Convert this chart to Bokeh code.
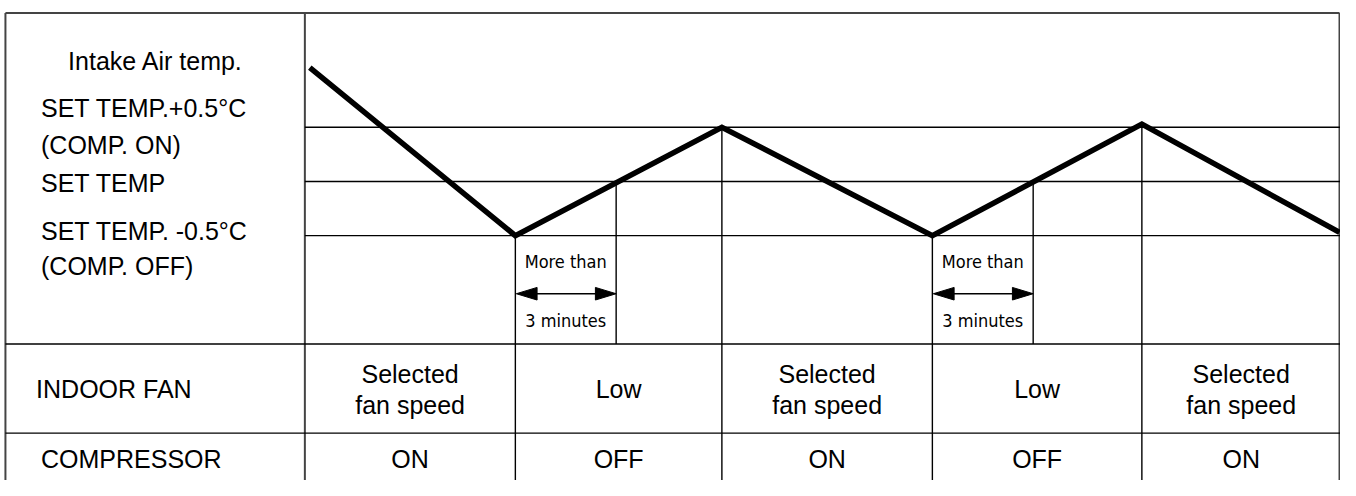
from bokeh.plotting import figure
from bokeh.models import Range1d
from bokeh.core.properties import value
from bokeh.embed import file_html
from bokeh.resources import INLINE

# ---------------- data ----------------
time_pts    = [313, 521, 730, 943, 1155, 1355]          # time axis (arbitrary units)
intake_temp = [1.05, -0.50, 0.50, -0.50, 0.53, -0.47]    # °C relative to set temperature
point_kind  = ["start", "min", "max", "min", "max", "end"]
level_temps = [0.5, 0.0, -0.5]
level_text  = [["SET TEMP.+0.5°C", "(COMP. ON)"], ["SET TEMP"], ["SET TEMP. -0.5°C", "(COMP. OFF)"]]
phase_edges = [308, 521, 730, 943, 1155, 1356]
indoor_fan  = [["Selected", "fan speed"], ["Low"], ["Selected", "fan speed"], ["Low"], ["Selected", "fan speed"]]
compressor  = ["ON", "OFF", "ON", "OFF", "ON"]
row_names   = ["INDOOR FAN", "COMPRESSOR"]
delay_len   = 102          # span of "More than 3 minutes"
delay_text  = ["More than", "3 minutes"]
title_text  = "Intake Air temp."

# ---------------- layout ----------------
W_REF, H_REF = 1356, 496
PX_PER_DEG = 112.0
Y_ZERO = 187.0


def ty(px):
    return (Y_ZERO - px) / PX_PER_DEG


B_L, B_R, B_T, B_B = 5, 1355, 13, 496
ROW1_TOP, ROW2_TOP = 355, 447
LABEL_X = 41
FONT = value("Liberation Sans")
NARROW = value("'Liberation Sans Narrow', 'DejaVu Sans Condensed', 'Liberation Sans', sans-serif")
FS = value("25px")
FS_N = value("18px")

p = figure(width=1340, height=480, output_backend="svg", toolbar_location=None,
           x_range=Range1d(0, W_REF), y_range=Range1d(ty(H_REF), ty(0)),
           min_border=0)
p.axis.visible = False
p.grid.visible = False
p.outline_line_color = None
p.background_fill_color = "white"
p.border_fill_color = "white"

# outer frame + left label column divider
p.segment(x0=[B_L, B_L, B_R, phase_edges[0]],
          y0=[ty(B_T)] * 4,
          x1=[B_R, B_L, B_R, phase_edges[0]],
          y1=[ty(B_T), ty(B_B), ty(B_B), ty(B_B)],
          line_color="#444444", line_width=2)

# temperature level lines
p.segment(x0=[phase_edges[0]] * len(level_temps), y0=level_temps,
          x1=[phase_edges[-1]] * len(level_temps), y1=level_temps,
          line_color="black", line_width=1.4)

# table row dividers
p.segment(x0=[B_L, B_L], y0=[ty(ROW1_TOP), ty(ROW2_TOP)],
          x1=[phase_edges[-1]] * 2, y1=[ty(ROW1_TOP), ty(ROW2_TOP)],
          line_color="black", line_width=1.4)

# vertical lines at switching points
vx, vy0, vy1 = [], [], []
dx, dy0, dy1 = [], [], []
for t, v, k in zip(time_pts, intake_temp, point_kind):
    if k in ("min", "max"):
        vx.append(t); vy0.append(v); vy1.append(ty(B_B))
    if k == "min":
        dx.append(t + delay_len); dy0.append(level_temps[1]); dy1.append(ty(ROW1_TOP))
p.segment(x0=vx, y0=vy0, x1=vx, y1=vy1, line_color="black", line_width=1.4)
p.segment(x0=dx, y0=dy0, x1=dx, y1=dy1, line_color="black", line_width=1.4)

# intake air temperature
p.line(time_pts, intake_temp, line_color="black", line_width=5.5, line_join="miter")

# "More than 3 minutes" arrows
HEAD_L = 21
HEAD_W = 6.5 / PX_PER_DEG
ARROW_Y = ty(303)
ax0, ax1, hx, hy = [], [], [], []
tx, tyy, tt = [], [], []
for t, k in zip(time_pts, point_kind):
    if k == "min":
        a, b = t + 1, t + delay_len
        ax0.append(a + HEAD_L - 2); ax1.append(b - HEAD_L + 2)
        hx.append([a, a + HEAD_L, a + HEAD_L]); hy.append([ARROW_Y, ARROW_Y + HEAD_W, ARROW_Y - HEAD_W])
        hx.append([b, b - HEAD_L, b - HEAD_L]); hy.append([ARROW_Y, ARROW_Y + HEAD_W, ARROW_Y - HEAD_W])
        mid = t + delay_len / 2
        tx += [mid, mid]; tyy += [ty(270), ty(331)]; tt += delay_text
p.segment(x0=ax0, y0=[ARROW_Y] * len(ax0), x1=ax1, y1=[ARROW_Y] * len(ax1),
          line_color="black", line_width=1.3)
p.patches(hx, hy, fill_color="black", line_color="black", line_width=1)
p.text(x=tx, y=tyy, text=tt, text_font=NARROW, text_font_size=FS_N,
       text_align="center", text_baseline="middle", text_color="black")

# left labels
p.text(x=[157], y=[ty(62)], text=[title_text], text_font=FONT, text_font_size=FS,
       text_align="center", text_baseline="middle", text_color="black")
lbl_mid = [[111, 149], [189], [238, 274]]
lx, ly, lt = [], [], []
for lines, mids in zip(level_text, lbl_mid):
    for s, m in zip(lines, mids):
        lx.append(LABEL_X); ly.append(ty(m)); lt.append(s)
for name, m, x0 in zip(row_names, [401, 474], [36, 41]):
    lx.append(x0); ly.append(ty(m)); lt.append(name)
p.text(x=lx, y=ly, text=lt, text_font=FONT, text_font_size=FS,
       text_align="left", text_baseline="middle", text_color="black")

# table cells
cx, cy, ct = [], [], []
for i in range(len(compressor)):
    mid = (phase_edges[i] + phase_edges[i + 1]) / 2
    lines = indoor_fan[i]
    mids = [386, 418] if len(lines) == 2 else [401]
    for s, m in zip(lines, mids):
        cx.append(mid); cy.append(ty(m)); ct.append(s)
    cx.append(mid); cy.append(ty(474)); ct.append(compressor[i])
p.text(x=cx, y=cy, text=ct, text_font=FONT, text_font_size=FS,
       text_align="center", text_baseline="middle", text_color="black")

open("out.html", "w").write(file_html(p, INLINE))
